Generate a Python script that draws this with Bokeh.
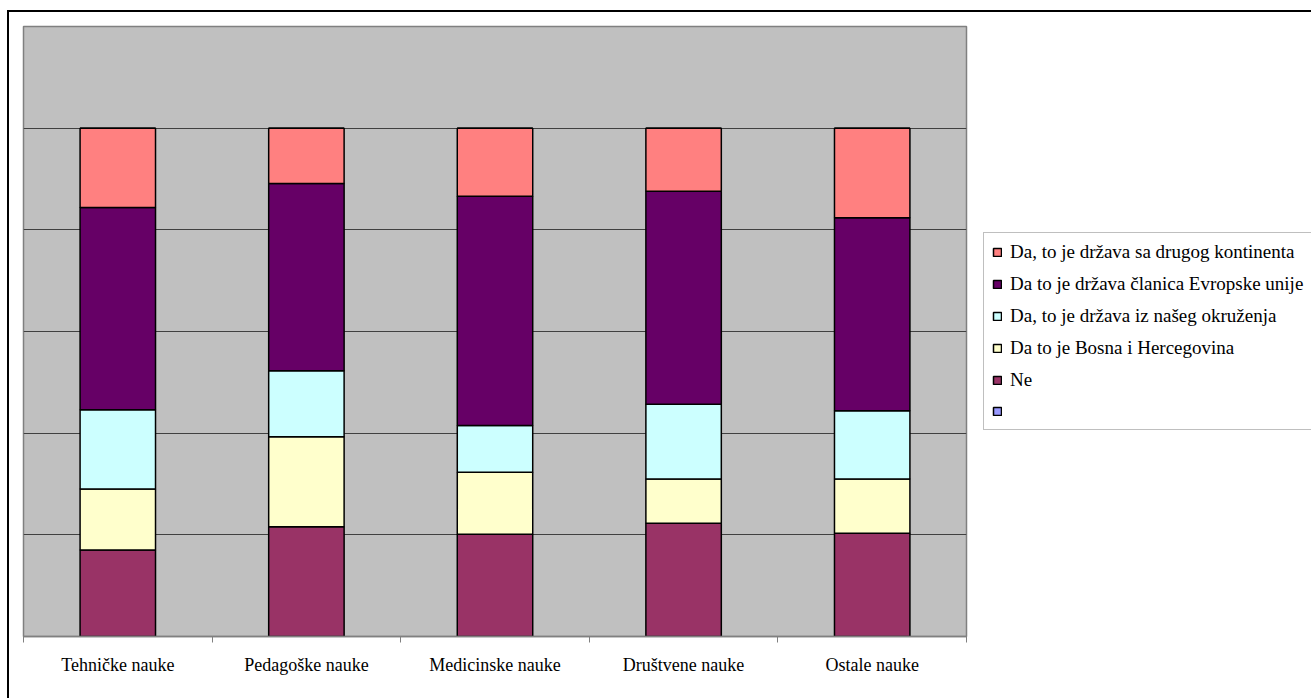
from bokeh.plotting import figure
from bokeh.models import (Range1d, FixedTicker, Legend, LegendItem, ColumnDataSource)
from bokeh.embed import file_html
from bokeh.resources import INLINE

categories = ["Tehničke nauke", "Pedagoške nauke", "Medicinske nauke", "Društvene nauke", "Ostale nauke"]

# stacked from bottom to top (percent)
ne = [17.0, 21.6, 20.1, 22.3, 20.3]
bih = [12.0, 17.7, 12.2, 8.7, 10.7]
okruzenje = [15.6, 13.0, 9.2, 14.7, 13.4]
eu = [39.8, 36.8, 45.1, 41.9, 38.0]
kontinent = [15.6, 10.9, 13.4, 12.4, 17.6]
prazno = [0, 0, 0, 0, 0]

series_names = ["Ne", "Da to je Bosna i Hercegovina", "Da, to je država iz našeg okruženja",
                "Da to je država članica Evropske unije", "Da, to je država sa drugog kontinenta", " "]
series_colors = ["#993366", "#FFFFCC", "#CCFFFF", "#660066", "#FF8080", "#9999FF"]

keys = ["ne", "bih", "okr", "eu", "kont", "blank"]
xs = [i + 0.5 for i in range(len(categories))]
source = ColumnDataSource(dict(x=xs, ne=ne, bih=bih, okr=okruzenje, eu=eu, kont=kontinent, blank=prazno))

p = figure(frame_width=943, frame_height=610, output_backend="svg", toolbar_location=None,
           x_range=Range1d(0, len(categories)), y_range=Range1d(0, 120),
           min_border_left=14, min_border_top=14, min_border_right=345, min_border_bottom=62,
           background_fill_color="#C0C0C0", border_fill_color="white",
           outline_line_color="#808080", outline_line_width=1.5)
p.styles = {"border-left": "2px solid black", "border-top": "2px solid black",
            "margin-left": "7px", "margin-top": "10px"}

renderers = p.vbar_stack(keys, x="x", width=0.4, source=source, color=series_colors,
                         line_color="black", line_width=1.5)

# axes
p.yaxis.visible = False
p.ygrid.ticker = FixedTicker(ticks=[0, 20, 40, 60, 80, 100])
p.ygrid.grid_line_color = "#404040"
p.ygrid.grid_line_width = 1
p.xgrid.grid_line_color = None

xa = p.xaxis[0]
xa.ticker = FixedTicker(ticks=xs, minor_ticks=list(range(len(categories) + 1)))
xa.major_label_overrides = {x: c for x, c in zip(xs, categories)}
xa.major_tick_line_color = None
xa.major_tick_out = 0
xa.major_tick_in = 0
xa.minor_tick_line_color = "#808080"
xa.minor_tick_out = 6
xa.minor_tick_in = 0
xa.axis_line_color = "#808080"
xa.axis_line_width = 1.5
xa.major_label_text_font = "Liberation Serif"
xa.major_label_text_font_size = "18px"
xa.major_label_text_color = "black"
xa.major_label_standoff = 12

items = [LegendItem(label=n, renderers=[r]) for n, r in zip(series_names, renderers)]
items = items[:5][::-1] + [items[5]]
legend = Legend(items=items, location="center_left", margin=17,
                label_text_font="Liberation Serif", label_text_font_size="19px",
                label_text_color="black", glyph_width=10, glyph_height=10,
                label_height=20, spacing=10, padding=8, label_standoff=8,
                border_line_color="#808080", border_line_width=1,
                background_fill_color="white", background_fill_alpha=1)
p.add_layout(legend, "right")

open("out.html", "w").write(file_html(p, INLINE))
